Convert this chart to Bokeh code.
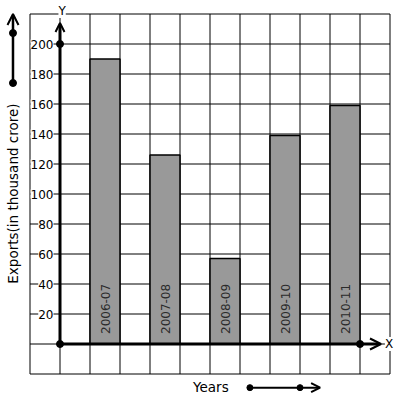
import math
from bokeh.plotting import figure
from bokeh.models import Arrow, OpenHead, ColumnDataSource
from bokeh.core.properties import value
from bokeh.embed import file_html
from bokeh.resources import INLINE

# ---- data ----
years = ["2006-07", "2007-08", "2008-09", "2009-10", "2010-11"]
exports = [190, 126, 57, 139, 159]
y_tick_values = [20, 40, 60, 80, 100, 120, 140, 160, 180, 200]
y_tick_labels = ["20", "40", "60", "80", "100", "120", "140", "160", "180", "200"]
y_title = "Exports(in thousand crore)"
x_title = "Years"

FONT = value("DejaVu Sans")

# grid layout (one column per unit, 20 export units per row)
grid_x = list(range(-1, 12))
grid_y = list(range(-20, 221, 20))

W, H = 397, 399
p = figure(width=W, height=H, x_range=(-59.5 / 30, 11.25), y_range=(-37, 229),
           output_backend="svg", toolbar_location=None,
           x_axis_location=None, y_axis_location=None, min_border=0)
p.outline_line_color = None
p.background_fill_color = "white"
p.border_fill_color = "white"
p.grid.visible = False

# square grid
p.segment(x0=grid_x, y0=[grid_y[0]] * len(grid_x), x1=grid_x, y1=[grid_y[-1]] * len(grid_x),
          line_color="black", line_width=1)
p.segment(x0=[grid_x[0]] * len(grid_y), y0=grid_y, x1=[grid_x[-1]] * len(grid_y), y1=grid_y,
          line_color="black", line_width=1)

# bars
centers = [1.5 + 2 * i for i in range(len(years))]
src = ColumnDataSource(dict(x=centers, top=exports, year=years))
p.vbar(x="x", top="top", bottom=0, width=1, source=src,
       fill_color="#999999", line_color="black", line_width=1.5)

# bar labels (rotated)
p.text(x="x", y=0, text="year", source=src, angle=math.pi / 2,
       text_align="left", text_baseline="middle", y_offset=-10,
       text_font=FONT, text_font_size="12px", text_color="#2b2b2b")

# y tick labels
p.text(x=[0] * len(y_tick_values), y=y_tick_values, text=y_tick_labels,
       text_align="right", text_baseline="middle", x_offset=-6.5,
       text_font=FONT, text_font_size="12px", text_color="black",
       background_fill_color="white")

# axes with arrows
p.add_layout(Arrow(end=OpenHead(size=9, line_width=2), x_start=0, y_start=0,
                   x_end=0, y_end=214, line_width=3, line_color="black"))
p.add_layout(Arrow(end=OpenHead(size=11, line_width=2), x_start=0, y_start=0,
                   x_end=10.7, y_end=0, line_width=3, line_color="black"))
p.scatter(x=[0, 0, 10], y=[0, 200, 0], size=7, color="black")

# axis letters
p.text(x=[0.07], y=[222], text=["Y"], text_align="center", text_baseline="middle",
       text_font=FONT, text_font_size="12px", text_color="black",
       background_fill_color="white")
p.text(x=[10.967], y=[0], text=["X"], text_align="center", text_baseline="middle",
       text_font=FONT, text_font_size="12px", text_color="black",
       background_fill_color="white")

# left decorative arrow
p.add_layout(Arrow(end=OpenHead(size=11, line_width=2), x_start=-1.567, y_start=174,
                   x_end=-1.567, y_end=220, line_width=2.5, line_color="black"))
p.scatter(x=[-1.567, -1.567], y=[174, 207.3], size=7, color="black")

# y title
p.text(x=[-1.567], y=[100.3], text=[y_title], angle=math.pi / 2,
       text_align="center", text_baseline="middle",
       text_font=FONT, text_font_size="13.5px", text_color="black")

# x title with arrow
p.text(x=[5.03], y=[-28.6], text=[x_title], text_align="center", text_baseline="middle",
       text_font=FONT, text_font_size="13.5px", text_color="black")
p.add_layout(Arrow(end=OpenHead(size=9, line_width=2), x_start=6.33, y_start=-29.1,
                   x_end=8.67, y_end=-29.1, line_width=2, line_color="black"))
p.scatter(x=[6.33, 8.0], y=[-29.1, -29.1], size=6, color="black")

open("out.html", "w").write(file_html(p, INLINE))
